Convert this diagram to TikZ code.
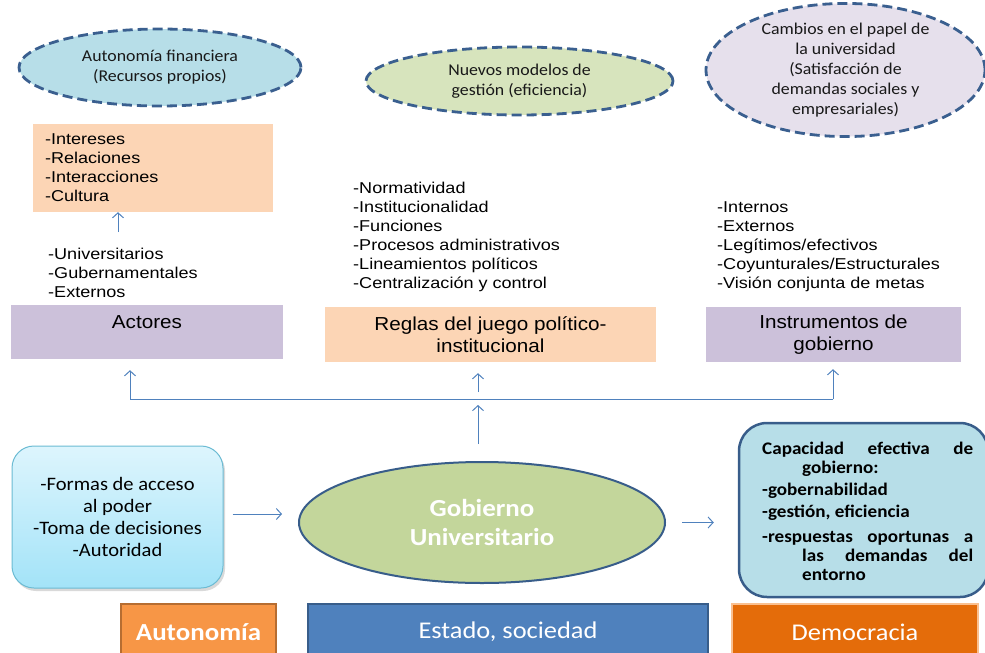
\documentclass[tikz,border=0pt]{standalone}
\usepackage{fontspec}
\setmainfont{Liberation Sans}
\newfontfamily\arfont[FakeStretch=1.15]{Liberation Sans}
\newfontfamily\artfont[FakeStretch=1.1]{Liberation Sans}
\newfontfamily\calfont[FakeStretch=1.08]{Carlito}
\newfontfamily\calwfont[FakeStretch=1.1]{Carlito}
\usetikzlibrary{shapes.geometric,arrows.meta,shadows}
\definecolor{dashblue}{HTML}{3A5F8F}
\definecolor{ellblue}{HTML}{B7DEE8}
\definecolor{ellgreen}{HTML}{D7E4BD}
\definecolor{elllav}{HTML}{E6E0EC}
\definecolor{peach}{HTML}{FCD5B5}
\definecolor{lilac}{HTML}{CCC1DA}
\definecolor{arrblue}{HTML}{4F81BD}
\definecolor{gobgreen}{HTML}{C3D69B}
\definecolor{darkblue}{HTML}{385D8A}
\definecolor{cyantop}{HTML}{DDF5FD}
\definecolor{cyanbot}{HTML}{A3E3F8}
\definecolor{cyanedge}{HTML}{6BBBD3}
\definecolor{orangeA}{HTML}{F79646}
\definecolor{orangeAedge}{HTML}{B66D31}
\definecolor{orangeD}{HTML}{E46C0A}
\definecolor{orangeDedge}{HTML}{FAC090}
\tikzset{
  dashell/.style={ellipse, draw=dashblue, line width=2.8pt, dash pattern=on 10pt off 5pt,
    inner sep=0pt, align=center, font=\calfont\fontsize{16.5}{20}\selectfont, text=black!90},
  plainbox/.style={rectangle, inner sep=0pt, draw=none},
  listtxt/.style={align=left, inner sep=0pt, anchor=west, font=\arfont\fontsize{15.7}{19}\selectfont},
  titletxt/.style={align=center, font=\artfont\fontsize{18.8}{22}\selectfont},
  arr/.style={draw=arrblue, line width=1pt, -{Straight Barb[length=5pt,width=11pt]}},
  conn/.style={draw=arrblue, line width=1pt},
  bottombox/.style={rectangle, inner sep=0pt, line width=2pt, minimum height=56pt, text=white,
    font=\calwfont\fontsize{24}{28}\selectfont}
}
\begin{document}
\begin{tikzpicture}[x=1pt,y=-1pt]
\useasboundingbox (0,0) rectangle (985,653);

% top ellipses
\node[dashell, fill=ellblue, minimum width=282pt, minimum height=77pt] (e1) at (160,67.5)
  {Autonomía financiera\\(Recursos propios)};
\node[dashell, fill=ellgreen, minimum width=307pt, minimum height=68pt] (e2) at (519.5,81)
  {Nuevos modelos de\\gestión (eficiencia)};
\node[dashell, fill=elllav, minimum width=279pt, minimum height=106pt] (e3) at (845.5,70)
  {Cambios en el papel de\\la universidad\\(Satisfacción de\\demandas sociales y\\empresariales)};

% peach box top left
\node[plainbox, fill=peach, minimum width=240pt, minimum height=88pt, align=left,
  text width=216pt, inner xsep=12pt, font=\arfont\fontsize{15.7}{19}\selectfont] (b1) at (153,168)
  {-Intereses\\-Relaciones\\-Interacciones\\-Cultura};

% lists
\node[listtxt] (l1) at (48,273) {-Universitarios\\-Gubernamentales\\-Externos};
\node[listtxt] (l2) at (353,236.5) {-Normatividad\\-Institucionalidad\\-Funciones\\-Procesos administrativos\\-Lineamientos políticos\\-Centralización y control};
\node[listtxt] (l3) at (717,247) {-Internos\\-Externos\\-Legítimos/efectivos\\-Coyunturales/Estructurales\\-Visión conjunta de metas};

\coordinate (a1) at (118,232);
\draw[arr] (a1) -- (a1 |- b1.south);

% title boxes
\node[plainbox, fill=lilac, minimum width=272pt, minimum height=54pt, titletxt] (act) at (147,332)
  {Actores\\[-2pt]\phantom{A}};
\node[plainbox, fill=peach, minimum width=331pt, minimum height=55pt, titletxt] (reg) at (490.5,334.5)
  {Reglas del juego político-\\institucional};
\node[plainbox, fill=lilac, minimum width=255pt, minimum height=55pt, titletxt] (ins) at (833.5,334.5)
  {Instrumentos de\\gobierno};

% connectors
\coordinate (hL) at (130,399);
\coordinate (hR) at (833,399);
\coordinate (hM) at (478,399);
\coordinate (hM1) at (478,392);
\draw[conn] (hL) -- (hR);
\draw[arr, shorten >=11pt] (hL) -- (hL |- act.south);
\draw[arr, shorten >=7pt] (hR) -- (hR |- ins.south);
\draw[arr, shorten >=11pt] (hM1) -- (hM1 |- reg.south);

% central ellipse
\node[ellipse, fill=gobgreen, draw=darkblue, line width=2pt, inner sep=0pt,
  minimum width=366pt, minimum height=121pt, align=center, text=white,
  font=\calwfont\bfseries\fontsize{24.5}{29}\selectfont] (gob) at (482,522.5)
  {Gobierno\\Universitario};
\draw[arr, shorten <=17pt, shorten >=6pt] (hM |- gob.north) -- (hM);

% left rounded box
\node[rectangle, rounded corners=22pt, draw=cyanedge, line width=1pt,
  top color=cyantop, bottom color=cyanbot,
  drop shadow={shadow xshift=2pt, shadow yshift=-3pt, opacity=0.3},
  minimum width=211pt, minimum height=142pt, inner sep=0pt, align=center,
  font=\calfont\fontsize{19}{22}\selectfont] (lb) at (117.5,517)
  {-Formas de acceso\\al poder\\-Toma de decisiones\\-Autoridad};
\coordinate (y514) at (0,514);
\draw[arr, shorten <=9pt, shorten >=16pt] (lb.east |- y514) -- (gob.west |- y514);

% right rounded box
\node[rectangle, rounded corners=28pt, fill=ellblue, draw=darkblue, line width=2.5pt,
  minimum width=249pt, minimum height=174pt, inner sep=0pt] (rb) at (863.5,510) {};
\node[inner sep=0pt, anchor=west, font=\calfont\bfseries\fontsize{17.7}{19}\selectfont] (rbt) at (762,511)
  {\parbox{211pt}{\makebox[211pt][s]{Capacidad efectiva de}\\
   \hspace*{40pt}gobierno:\\[3pt]
   -gobernabilidad\\[3pt]
   -gestión, eficiencia\\[6pt]
   \makebox[211pt][s]{-respuestas oportunas a}\\
   \hspace*{40pt}\makebox[171pt][s]{las demandas del}\\
   \hspace*{40pt}entorno}};
\draw[arr, shorten <=16pt, shorten >=24pt] (gob.east) -- (gob.east -| rb.west);

% bottom boxes
\node[bottombox, fill=orangeA, draw=orangeAedge, minimum width=155pt,
  font=\calwfont\bfseries\fontsize{24.5}{28}\selectfont] (aut) at (198.5,632) {Autonomía};
\node[bottombox, fill=arrblue, draw=darkblue, minimum width=400pt] (est) at (508,632) {Estado, sociedad};
\node[bottombox, fill=orangeD, draw=orangeDedge, minimum width=246pt] (dem) at (855,632) {Democracia};
\end{tikzpicture}
\end{document}
